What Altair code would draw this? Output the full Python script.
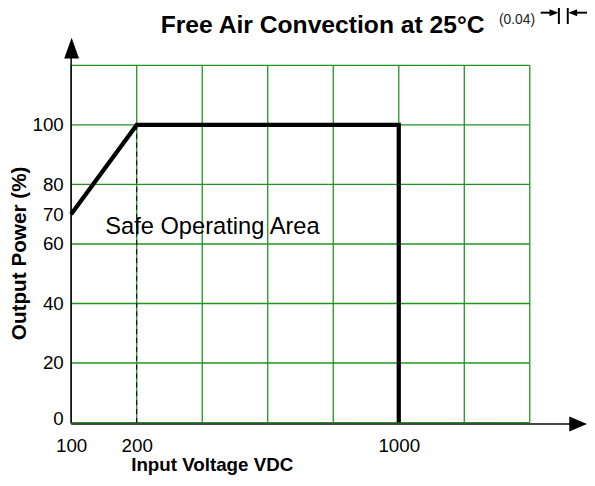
import altair as alt
import pandas as pd

# ---- data ----
volt_grid = [100, 200, 400, 600, 800, 1000, 1200, 1400]   # vertical grid lines (V)
pct_grid = [0, 20, 40, 60, 80, 100, 120]                   # horizontal grid lines (%)
x_ticks = [100, 200, 1000]
y_ticks = [0, 20, 40, 60, 70, 80, 100]
curve_v = [100, 200, 1000, 1000]
curve_p = [70, 100, 100, 0]
dash_v = [200]
dash_p_top = [100]
dash_p_bottom = [-0.6]
note_text = ["Safe Operating Area"]
note_v = [152]
note_p = [63.3]

title_text = "Free Air Convection at 25°C"
x_title = "Input Voltage VDC"
y_title = "Output Power (%)"
dim_text = "(0.04)"

FONT = "Liberation Sans, Arial, sans-serif"
GREEN = "#1f941f"
W, H = 465, 362

xs = alt.Scale(domain=[100, 200, 1400], range=[0, 66.5, W], zero=False, nice=False)
ys = alt.Scale(domain=[0, 120], range=[H, 0], zero=False, nice=False)

xaxis = alt.Axis(values=x_ticks, title=x_title, format="d", grid=False, domain=False, ticks=False,
                 tickSize=0, labelFontSize=19, labelColor="black", labelPadding=14,
                 labelFlush=False, labelOverlap=False, labelFont=FONT,
                 titleFont=FONT, titleFontSize=19, titleFontWeight="bold", titleColor="black",
                 titleX=142.5, titleY=49, titleAlign="center", titleBaseline="alphabetic")
yaxis = alt.Axis(values=y_ticks, title=y_title, grid=False, domain=False, ticks=False,
                 tickSize=0, labelFontSize=19, labelColor="black", labelPadding=8,
                 labelFlush=True, labelFlushOffset=6, labelOverlap=False, labelFont=FONT,
                 titleFont=FONT, titleFontSize=21, titleFontWeight="bold", titleColor="black",
                 titleX=-52, titleY=190, titleAngle=270, titleAlign="center",
                 titleBaseline="middle")


def X(field="v"):
    return alt.X(f"{field}:Q", scale=xs, axis=xaxis)


def Y(field="p"):
    return alt.Y(f"{field}:Q", scale=ys, axis=yaxis)


vgrid_df = pd.DataFrame({"v": volt_grid, "p": [0] * len(volt_grid), "p2": [120] * len(volt_grid)})
hgrid_df = pd.DataFrame({"p": pct_grid, "v": [100] * len(pct_grid), "v2": [1400] * len(pct_grid)})
curve_df = pd.DataFrame({"v": curve_v, "p": curve_p, "o": list(range(len(curve_v)))})
dash_df = pd.DataFrame({"v": dash_v, "p": dash_p_top, "p2": dash_p_bottom})
note_df = pd.DataFrame({"v": note_v, "p": note_p, "t": note_text})

vgrid = alt.Chart(vgrid_df).mark_rule(color=GREEN, strokeWidth=1.3).encode(
    x=X(), y=Y(), y2="p2:Q")
hgrid = alt.Chart(hgrid_df).mark_rule(color=GREEN, strokeWidth=1.3).encode(
    y=Y(), x=X(), x2="v2:Q")
dash = alt.Chart(dash_df).mark_rule(color="black", strokeWidth=1, strokeDash=[5, 4]).encode(
    x=X(), y=Y(), y2="p2:Q")

# axis lines with arrow heads
y_axis_line = alt.Chart(note_df).mark_rule(color="black", strokeWidth=1.5).encode(
    x=alt.value(0), y=alt.value(-8), y2=alt.value(H + 1))
x_axis_line = alt.Chart(note_df).mark_rule(color="#444444", strokeWidth=2).encode(
    x=alt.value(0), x2=alt.value(506), y=alt.value(H + 1.5))
y_arrow = alt.Chart(note_df).mark_point(
    shape="M0,-1L0.714,1L-0.714,1Z", filled=True, color="black", opacity=1, size=441, strokeWidth=0
).encode(x=alt.value(0.5), y=alt.value(-17.5))
x_arrow = alt.Chart(note_df).mark_point(
    shape="M1,0L-1,0.833L-1,-0.833Z", filled=True, color="black", opacity=1, size=324, strokeWidth=0
).encode(x=alt.value(514), y=alt.value(H + 1.5))

curve = alt.Chart(curve_df).mark_line(color="black", strokeWidth=4.3, strokeJoin="miter",
                                      strokeCap="butt").encode(
    x=X(), y=Y(), order="o:Q")

note = alt.Chart(note_df).mark_text(align="left", baseline="alphabetic", fontSize=24,
                                    font=FONT, color="black").encode(
    x=X(), y=Y(), text="t:N")

title = alt.Chart(note_df).mark_text(text=title_text, align="center", baseline="alphabetic",
                                     fontSize=25, fontWeight="bold", font=FONT, color="black").encode(
    x=alt.value(255), y=alt.value(-33))

# dimension marks at the top right (cropped drawing remnant)
dim_label = alt.Chart(note_df).mark_text(text=dim_text, align="center", baseline="middle",
                                         fontSize=14, font=FONT, color="#222222").encode(
    x=alt.value(452), y=alt.value(-46))
dim_line_l = alt.Chart(note_df).mark_rule(color="black", strokeWidth=2).encode(
    x=alt.value(476), x2=alt.value(487), y=alt.value(-53.5))
dim_line_r = alt.Chart(note_df).mark_rule(color="black", strokeWidth=2).encode(
    x=alt.value(512), x2=alt.value(523), y=alt.value(-53.5))
dim_bar1 = alt.Chart(note_df).mark_rule(color="black", strokeWidth=2).encode(
    x=alt.value(494.5), y=alt.value(-63), y2=alt.value(-42))
dim_bar2 = alt.Chart(note_df).mark_rule(color="black", strokeWidth=2).encode(
    x=alt.value(503.5), y=alt.value(-63), y2=alt.value(-42))
dim_arrow_r = alt.Chart(note_df).mark_point(
    shape="M1,0L-1,0.78L-1,-0.78Z", filled=True, color="black", opacity=1, size=81, strokeWidth=0
).encode(x=alt.value(489.5), y=alt.value(-53.5))
dim_arrow_l = alt.Chart(note_df).mark_point(
    shape="M-1,0L1,0.78L1,-0.78Z", filled=True, color="black", opacity=1, size=81, strokeWidth=0
).encode(x=alt.value(508.5), y=alt.value(-53.5))

chart = alt.layer(
    vgrid, hgrid, dash, y_axis_line, x_axis_line, y_arrow, x_arrow, curve, note, title,
    dim_label, dim_line_l, dim_line_r, dim_bar1, dim_bar2, dim_arrow_r, dim_arrow_l
).properties(
    width=W, height=H,
    autosize=alt.AutoSizeParams(type="none"),
    padding={"left": 64, "top": 55, "right": 58, "bottom": 53},
    background="white",
).configure_view(strokeWidth=0)

chart.save("out.html", embed_options={"renderer": "svg", "actions": False})
